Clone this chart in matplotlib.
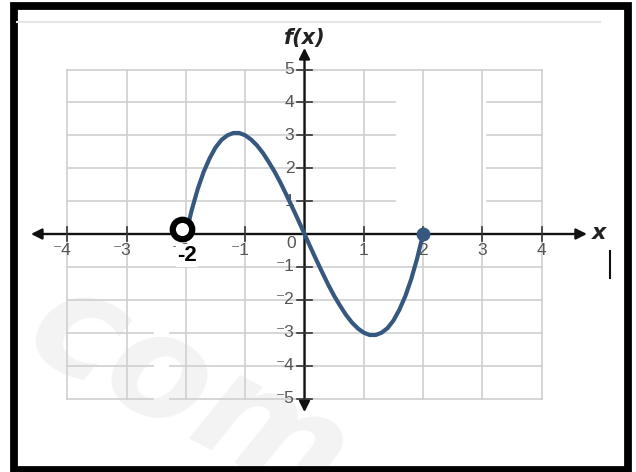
import matplotlib
matplotlib.use("Agg")
import matplotlib.pyplot as plt
from matplotlib.patches import FancyArrowPatch, Rectangle

# f(x) at steps of 0.1 on [-2, 2]
xs = [-2.0, -1.9, -1.8, -1.7, -1.6, -1.5, -1.4, -1.3, -1.2, -1.1, -1.0,
      -0.9, -0.8, -0.7, -0.6, -0.5, -0.4, -0.3, -0.2, -0.1, 0.0,
      0.1, 0.2, 0.3, 0.4, 0.5, 0.6, 0.7, 0.8, 0.9, 1.0,
      1.1, 1.2, 1.3, 1.4, 1.5, 1.6, 1.7, 1.8, 1.9, 2.0]
ys = [0.0, 0.74, 1.37, 1.89, 2.30, 2.63, 2.86, 3.00, 3.07, 3.07, 3.0,
      2.87, 2.69, 2.46, 2.18, 1.88, 1.54, 1.17, 0.79, 0.40, 0.0,
      -0.40, -0.79, -1.17, -1.54, -1.88, -2.18, -2.46, -2.69, -2.87, -3.0,
      -3.07, -3.07, -3.00, -2.86, -2.63, -2.30, -1.89, -1.37, -0.74, 0.0]

x_ticks = [-4, -3, -2, -1, 1, 2, 3, 4]
y_ticks = [-5, -4, -3, -2, -1, 1, 2, 3, 4, 5]

open_pt = (-2.07, 0.14)    # hollow endpoint marker
closed_pt = (2.0, 0.0)     # filled endpoint marker

CURVE = "#36587f"
GRID = "#cfcfcf"
LABEL = "#555555"

fig = plt.figure(figsize=(6.36, 4.72), dpi=100)
ax = fig.add_axes([0, 0, 1, 1])
x0, ux = 304.5, 59.3
y0, uy = 234.0, 32.9
ax.set_xlim(-x0 / ux, (636 - x0) / ux)
ax.set_ylim((y0 - 472) / uy, y0 / uy)
ax.axis("off")

# faint watermark in the lower left
ax.text(-5.05, -4.9, "com", fontsize=105, fontweight="bold", style="italic",
        color="#f3f3f3", rotation=-28, ha="left", va="center", zorder=0)

# grid, with the blank stretches the scan has
for gx in range(-4, 5):
    ax.plot([gx, gx], [-5, 5], color=GRID, lw=1.2, zorder=1)
for gy in range(-5, 6):
    if 1 <= gy <= 4:
        segs = [(-4, 1.52), (3.07, 4)]
    elif gy <= -3:
        segs = [(-4, -2.55), (-2.27, 4)]
    else:
        segs = [(-4, 4)]
    for a, b in segs:
        ax.plot([a, b], [gy, gy], color=GRID, lw=1.2, zorder=1)

# axes with arrowheads
ax.add_patch(FancyArrowPatch((-4.66, 0), (4.81, 0), arrowstyle="<|-|>",
                             mutation_scale=16, color="#111111", lw=1.7, zorder=3))
ax.add_patch(FancyArrowPatch((0, -5.5), (0, 5.74), arrowstyle="<|-|>",
                             mutation_scale=16, color="#111111", lw=1.7, zorder=3))

fam = ["Liberation Sans", "DejaVu Sans"]
for t in x_ticks:
    ax.plot([t, t], [-0.2, 0.2], color="#333333", lw=1.2, zorder=3)
    if t < 0:
        ax.text(t + 0.08, -0.5, "\u207b" + str(-t), ha="right", va="center",
                fontsize=12.5, color=LABEL, family=fam, zorder=4)
    else:
        ax.text(t, -0.5, str(t), ha="center", va="center",
                fontsize=12.5, color=LABEL, family=fam, zorder=4)
for t in y_ticks:
    ax.plot([-0.12, 0.12], [t, t], color="#333333", lw=1.2, zorder=3)
    lab = ("\u207b" + str(-t)) if t < 0 else str(t)
    ax.text(-0.17, t, lab, ha="right", va="center",
            fontsize=12.5, color=LABEL, family=fam, zorder=4)
ax.text(-0.22, -0.3, "0", ha="center", va="center", fontsize=12.5,
        color=LABEL, family=fam, zorder=4)

ax.text(0.0, 5.96, "f(x)", ha="center", va="center", fontsize=15,
        fontweight="bold", style="italic", color="#222222", zorder=4)
ax.text(4.97, 0.03, "x", ha="center", va="center", fontsize=16,
        fontweight="bold", style="italic", color="#222222", zorder=4)

# the function and its endpoints
ax.plot(xs, ys, color=CURVE, lw=3.0, solid_capstyle="round", zorder=5)
ax.plot(*closed_pt, "o", ms=9, color=CURVE, zorder=6)
ax.plot(*open_pt, "o", ms=14, mfc="white", mec="black", mew=4.5, zorder=7)
ax.text(-1.98, -0.66, "-2", ha="center", va="center", fontsize=16,
        fontweight="bold", color="black", family=fam, zorder=8,
        bbox=dict(boxstyle="square,pad=0.05", fc="white", ec="none"))

# small stray mark right of the x label
ax.plot([5.15, 5.15], [-0.52, -1.34], color="#111111", lw=1.5, zorder=4)

# frame around the picture
fig.add_artist(plt.Line2D([17 / 636, 600 / 636], [1 - 22 / 472, 1 - 22 / 472],
                          transform=fig.transFigure, color="#e2e6e8", lw=1.5))
fig.add_artist(Rectangle((13.5 / 636, 1 - 470 / 472), 614 / 636, 464 / 472,
                         transform=fig.transFigure, fc="none", ec="black",
                         lw=5.6))

fig.savefig("out.png", dpi=100)
